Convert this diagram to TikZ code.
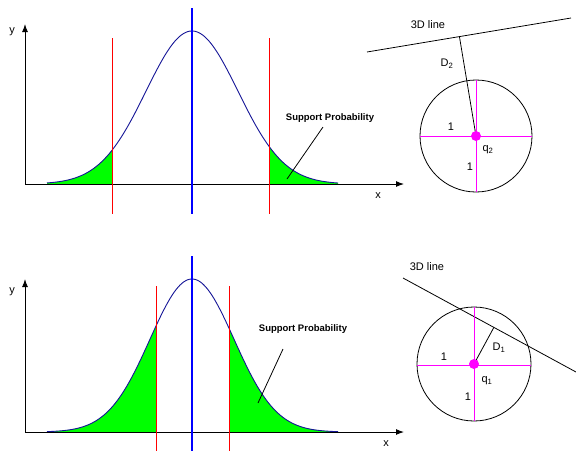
\documentclass[tikz,border=0pt]{standalone}
\usepackage{fontspec}
\setmainfont{Liberation Sans}
\usetikzlibrary{arrows.meta,calc}
\definecolor{curveblue}{RGB}{20,20,150}
\definecolor{mag}{RGB}{255,0,255}
\begin{document}
\begin{tikzpicture}[x=1pt,y=-1pt,
  axis/.style={line width=1pt,-{Latex[length=8pt,width=6pt]}},
  lbl/.style={font=\fontsize{11}{13}\selectfont,inner sep=0pt},
  sp/.style={font=\fontsize{9.5}{11}\selectfont\bfseries,inner sep=0pt},
  meanline/.style={blue,line width=2.5pt},
  limline/.style={red,line width=1pt},
  gauss/.style={curveblue,line width=0.9pt},
  area/.style={fill=green},
  magline/.style={mag,line width=1pt},
  thin/.style={line width=0.8pt}]
\useasboundingbox (0,0) rectangle (576,451);

% ===== top plot =====
\coordinate (o1) at (25,184);
\coordinate (ye1) at (25,24);
\coordinate (xe1) at (404,184);
\fill[area] (47,184) -- plot[domain=47:112,samples=60] (\x,{184-153*exp(-0.5*((\x-192)/46)^2)}) -- (112,184) -- cycle;
\fill[area] (269,184) -- plot[domain=269:338,samples=60] (\x,{184-153*exp(-0.5*((\x-192)/46)^2)}) -- (338,184) -- cycle;
\draw[gauss] plot[domain=47:338,samples=150] (\x,{184-153*exp(-0.5*((\x-192)/46)^2)});
\draw[axis] (o1) -- (ye1);
\draw[axis] (o1) -- (xe1);
\node[lbl] (y1) at (12,32) {y};
\node[lbl] (x1) at (378,196) {x};
\coordinate (r1a) at (112,38); \coordinate (r1b) at (112,214);
\coordinate (r2a) at (269,38); \coordinate (r2b) at (269,214);
\draw[limline] (r1a) -- (r1b);
\draw[limline] (r2a) -- (r2b);
\coordinate (b1a) at (192,8); \coordinate (b1b) at (192,214);
\draw[meanline] (b1a) -- (b1b);
\node[sp] (sp1) at (330,118) {Support Probability};
\coordinate (sp1e) at (287,179);
\draw[thin] (323,127) -- (sp1e);

% ===== top right =====
\coordinate (l1a) at (367,52);
\coordinate (l1b) at (571,18);
\draw[thin] (l1a) -- (l1b);
\node[lbl] (t1) at (428,25) {3D line};
\coordinate (c1) at (476,136);
\draw[thin] (c1) circle (56);
\draw[magline] (420,136) -- (532,136);
\draw[magline] (476,80) -- (476,192);
\draw[thin] (c1) -- ($(l1a)!(c1)!(l1b)$);
\fill[mag] (c1) circle (5);
\node[lbl] (d2) at (447,64) {D\textsubscript{2}};
\node[lbl] (o1a) at (451,127) {1};
\node[lbl] (o1b) at (470,167) {1};
\node[lbl] (q2) at (488,150) {q\textsubscript{2}};

% ===== bottom plot =====
\coordinate (o2) at (25,432);
\coordinate (ye2) at (25,279);
\coordinate (xe2) at (404,432);
\fill[area] (47,432) -- plot[domain=47:156,samples=60] (\x,{432-153*exp(-0.5*((\x-192)/42)^2)}) -- (156,432) -- cycle;
\fill[area] (229,432) -- plot[domain=229:338,samples=60] (\x,{432-153*exp(-0.5*((\x-192)/42)^2)}) -- (338,432) -- cycle;
\draw[gauss] plot[domain=47:338,samples=150] (\x,{432-153*exp(-0.5*((\x-192)/42)^2)});
\draw[axis] (o2) -- (ye2);
\draw[axis] (o2) -- (xe2);
\node[lbl] (y2) at (12,292) {y};
\node[lbl] (x2) at (386,444) {x};
\coordinate (r3a) at (156,286); \coordinate (r3b) at (156,451);
\coordinate (r4a) at (229,286); \coordinate (r4b) at (229,451);
\draw[limline] (r3a) -- (r3b);
\draw[limline] (r4a) -- (r4b);
\coordinate (b2a) at (192,256); \coordinate (b2b) at (192,451);
\draw[meanline] (b2a) -- (b2b);
\node[sp] (sp2) at (303,329) {Support Probability};
\coordinate (sp2e) at (258,403);
\draw[thin] (283,349) -- (sp2e);

% ===== bottom right =====
\coordinate (l2a) at (403,278);
\coordinate (l2b) at (576,372);
\draw[thin] (l2a) -- (l2b);
\node[lbl] (t2) at (427,267) {3D line};
\coordinate (c2) at (474,364);
\draw[thin] (c2) circle (57);
\draw[magline] (417,365) -- (531,365);
\draw[magline] (474,307) -- (474,421);
\draw[thin] (c2) -- ($(l2a)!(c2)!(l2b)$);
\fill[mag] (c2) circle (5);
\node[lbl] (d1) at (499,348) {D\textsubscript{1}};
\node[lbl] (o2a) at (444,357) {1};
\node[lbl] (o2b) at (468,397) {1};
\node[lbl] (q1) at (487,381) {q\textsubscript{1}};
\end{tikzpicture}
\end{document}
